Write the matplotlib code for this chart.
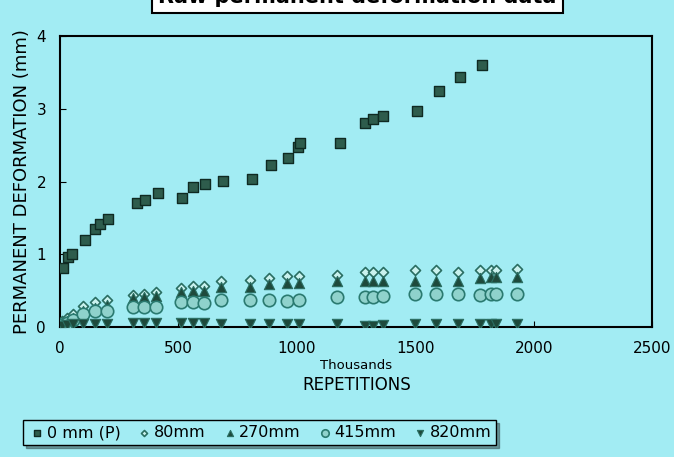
# Raw permanent deformation data - scatter of deformation vs repetitions

import matplotlib
matplotlib.use('Agg')
import matplotlib.pyplot as plt

# squares: 0 mm (P)
x_p = [13, 34, 51, 106, 149, 170, 204, 327, 357, 412, 514, 561, 612, 689, 812,
       889, 961, 1003, 1012, 1182, 1285, 1319, 1365, 1506, 1599, 1689, 1782]
y_p = [0.81, 0.97, 1.01, 1.20, 1.35, 1.42, 1.49, 1.71, 1.75, 1.85, 1.78, 1.93,
       1.97, 2.01, 2.04, 2.23, 2.33, 2.48, 2.53, 2.53, 2.81, 2.86, 2.90, 2.97,
       3.25, 3.44, 3.60]

# other depths share the same repetition counts
x_low = [10, 30, 55, 98, 148, 198, 310, 353, 404, 510, 561, 608, 680, 800, 880,
         957, 1008, 1170, 1285, 1319, 1361, 1497, 1587, 1680, 1774, 1817, 1838, 1927]
y_80 = [0.08, 0.12, 0.18, 0.29, 0.34, 0.38, 0.44, 0.46, 0.48, 0.54, 0.56, 0.57,
        0.64, 0.65, 0.68, 0.70, 0.70, 0.72, 0.76, 0.76, 0.76, 0.78, 0.78, 0.76,
        0.79, 0.79, 0.79, 0.80]
y_270 = [0.05, 0.08, 0.12, 0.22, 0.26, 0.30, 0.40, 0.42, 0.43, 0.48, 0.50, 0.50,
         0.55, 0.55, 0.59, 0.61, 0.61, 0.63, 0.64, 0.64, 0.64, 0.64, 0.64, 0.63,
         0.67, 0.69, 0.69, 0.69]
y_415 = [0.03, 0.06, 0.10, 0.18, 0.22, 0.22, 0.28, 0.28, 0.28, 0.34, 0.34, 0.33,
         0.37, 0.37, 0.37, 0.36, 0.38, 0.41, 0.42, 0.42, 0.43, 0.45, 0.45, 0.45,
         0.44, 0.46, 0.46, 0.45]
y_820 = [0.02, 0.03, 0.04, 0.05, 0.05, 0.05, 0.06, 0.06, 0.06, 0.06, 0.06, 0.06,
         0.04, 0.04, 0.05, 0.05, 0.04, 0.04, 0.02, 0.02, 0.03, 0.04, 0.04, 0.04,
         0.04, 0.05, 0.05, 0.05]

bg = '#a2ecf3'
dark = '#1e4a3c'

fig = plt.figure(figsize=(6.74, 4.57), dpi=100, facecolor=bg)
ax = fig.add_axes([0.089, 0.284, 0.879, 0.637], facecolor=bg)

ax.scatter(x_p, y_p, marker='s', s=60, c='#2e5c4c', edgecolors='#0f2a22', linewidths=1.0,
           label='0 mm (P)', zorder=3)
ax.scatter(x_low, y_80, marker='D', s=26, c='#c9f2ee', edgecolors='#2a6e62', linewidths=1.2,
           label='80mm', zorder=3)
ax.scatter(x_low, y_270, marker='^', s=55, c=dark, edgecolors='#2a6e62', linewidths=0.8,
           label='270mm', zorder=3)
ax.scatter(x_low, y_415, marker='o', s=80, c='#8fd2cc', edgecolors='#2a7a70', linewidths=1.2,
           label='415mm', zorder=3)
ax.scatter(x_low, y_820, marker='v', s=55, c=dark, edgecolors='#2a6e62', linewidths=0.8,
           label='820mm', zorder=3)

ax.set_xlim(0, 2500)
ax.set_ylim(0, 4)
ax.set_xticks([0, 500, 1000, 1500, 2000, 2500])
ax.set_yticks([0, 1, 2, 3, 4])
ax.tick_params(direction='in', length=4, labelsize=11, pad=10)
for sp in ax.spines.values():
    sp.set_linewidth(1.5)
    sp.set_color('black')

ax.set_ylabel('PERMANENT DEFORMATION (mm)', fontsize=13, labelpad=4)
ax.set_xlabel('Thousands', fontsize=9.5, labelpad=2)
fig.text(0.53, 0.157, 'REPETITIONS', ha='center', va='center', fontsize=12)

# title box sits mostly above the top edge, as in the original scan
fig.text(0.53, 1 - 3/457, 'Raw permanent deformation data', ha='center', va='baseline',
         fontsize=15, fontweight='bold',
         bbox=dict(boxstyle='square,pad=0.3', facecolor='white', edgecolor='black', linewidth=1.5))

leg = fig.legend(loc='center', bbox_to_anchor=(0.385, 0.053), ncol=5, fontsize=11.5,
                 frameon=True, fancybox=False, shadow=True, handletextpad=0.0,
                 handlelength=1.2, columnspacing=0.9, borderpad=0.3,
                 markerscale=0.6, scatteryoffsets=[0.4])
leg.get_frame().set_edgecolor('black')
leg.get_frame().set_facecolor(bg)
leg.get_frame().set_linewidth(1.0)

fig.savefig('out.png', dpi=100, facecolor=bg)
